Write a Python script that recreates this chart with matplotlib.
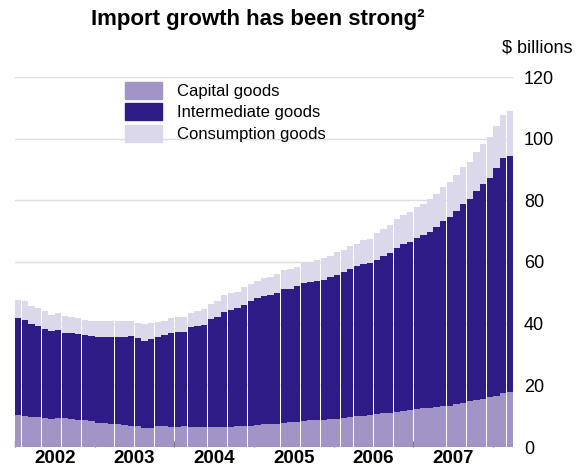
import numpy as np
import matplotlib.pyplot as plt
from matplotlib.patches import Patch

plt.rcParams['font.family'] = ['Liberation Sans', 'DejaVu Sans']

# monthly data, Jan 2002 - Mar 2008 ($ billions, stack tops)
capital = [10.3, 10.1, 9.7, 9.7, 9.4, 9.2, 9.5, 9.4, 9.2, 8.9, 8.7, 8.4,
           7.9, 7.8, 7.6, 7.4, 7.1, 6.9, 6.7, 6.3, 6.3, 6.7, 6.7, 6.5,
           6.6, 6.7, 6.5, 6.5, 6.6, 6.6, 6.6, 6.5, 6.6, 6.8, 6.8, 6.9,
           7.0, 7.3, 7.5, 7.6, 7.9, 8.0, 8.1, 8.3, 8.6, 8.8, 8.9, 9.0,
           9.2, 9.5, 9.7, 9.9, 10.2, 10.4, 10.7, 11.0, 11.1, 11.5, 11.7, 12.0,
           12.3, 12.5, 12.8, 12.9, 13.2, 13.4, 13.9, 14.4, 14.8, 15.2, 15.6, 16.1,
           16.6, 17.6, 17.9]
upto_intermediate = [41.7, 41.1, 39.8, 39.4, 38.3, 37.5, 37.9, 37.1, 36.9, 36.5, 36.2, 35.9,
                     35.6, 35.8, 35.8, 35.8, 35.8, 35.9, 35.2, 34.5, 34.9, 35.7, 36.3, 36.9,
                     37.3, 37.3, 38.8, 39.3, 39.6, 41.4, 42.1, 43.7, 44.5, 45.0, 46.2, 47.3,
                     48.2, 48.9, 49.3, 50.0, 51.1, 51.4, 52.1, 53.1, 53.6, 53.9, 54.3, 55.1,
                     55.8, 56.7, 57.8, 58.7, 59.2, 59.7, 60.8, 61.9, 63.0, 64.7, 65.7, 66.4,
                     67.9, 68.7, 69.8, 71.2, 73.3, 74.7, 76.5, 78.7, 80.4, 83.0, 85.2, 87.1,
                     90.4, 93.6, 94.5]
total = [47.6, 47.3, 45.8, 45.1, 44.0, 42.9, 43.3, 42.4, 42.3, 41.8, 41.1, 41.0,
         40.8, 41.0, 41.0, 40.8, 40.8, 40.8, 40.1, 39.6, 40.1, 40.6, 41.0, 41.8,
         42.3, 42.3, 43.6, 44.2, 44.7, 46.3, 47.4, 49.2, 49.9, 50.4, 51.9, 52.9,
         53.9, 54.8, 55.1, 56.1, 57.3, 57.8, 58.3, 59.6, 60.1, 60.5, 61.2, 62.0,
         63.1, 63.9, 65.2, 66.0, 67.0, 67.6, 69.3, 70.6, 72.0, 73.9, 75.2, 76.1,
         77.7, 78.8, 80.4, 82.0, 84.2, 86.0, 88.2, 90.7, 92.4, 95.6, 98.3, 100.5,
         104.1, 107.8, 109.0]
years = ['2002', '2003', '2004', '2005', '2006', '2007']

cap = np.array(capital)
inter = np.array(upto_intermediate) - cap
cons = np.array(total) - np.array(upto_intermediate)
x = np.arange(len(cap))

c_cap = '#a295c6'
c_int = '#2e1b86'
c_con = '#dcd8ec'

fig = plt.figure(figsize=(5.86, 4.68), dpi=100)
ax = fig.add_axes([15/586, 21/468, 498/586, 370/468])

ax.bar(x, cap, width=0.95, color=c_cap, linewidth=0, zorder=2)
ax.bar(x, inter, bottom=cap, width=0.95, color=c_int, linewidth=0, zorder=2)
ax.bar(x, cons, bottom=cap + inter, width=0.95, color=c_con, linewidth=0, zorder=2)

ax.set_xlim(-0.5, len(x) - 0.5)
ax.set_ylim(0, 120)
ax.set_yticks(np.arange(0, 121, 20))
ax.yaxis.tick_right()
ax.tick_params(axis='y', length=0, pad=8, labelsize=13)
for lab in ax.get_yticklabels():
    lab.set_horizontalalignment('left')
ax.grid(axis='y', color='#dedbef', linewidth=1, zorder=0)
ax.set_axisbelow(True)

# year labels in the middle of each year, small ticks at year boundaries
ax.set_xticks([12 * i + 5.5 for i in range(len(years))])
ax.set_xticklabels(years, fontweight='bold', fontsize=13.5)
ax.set_xticks([12 * i - 0.5 for i in range(len(years) + 1)], minor=True)
ax.tick_params(axis='x', which='major', length=0, pad=2)
ax.tick_params(axis='x', which='minor', direction='in', length=4, color='#777777', width=1)

for s in ax.spines.values():
    s.set_visible(False)

fig.text(258/586, 1 - 20/468, 'Import growth has been strong²', ha='center', va='center',
         fontsize=16, fontweight='bold')
fig.text(573/586, 1 - 48/468, '$ billions', ha='right', va='center', fontsize=13)

handles = [Patch(color=c_cap, label='Capital goods'),
           Patch(color=c_int, label='Intermediate goods'),
           Patch(color=c_con, label='Consumption goods')]
ax.legend(handles=handles, loc='upper left', bbox_to_anchor=(125/586, 1 - 82/468),
          bbox_transform=fig.transFigure, frameon=False, fontsize=12,
          handlelength=2.2, handleheight=1.2, labelspacing=0.25, handletextpad=0.9,
          borderpad=0, borderaxespad=0)

plt.savefig('out.png', dpi=100)
